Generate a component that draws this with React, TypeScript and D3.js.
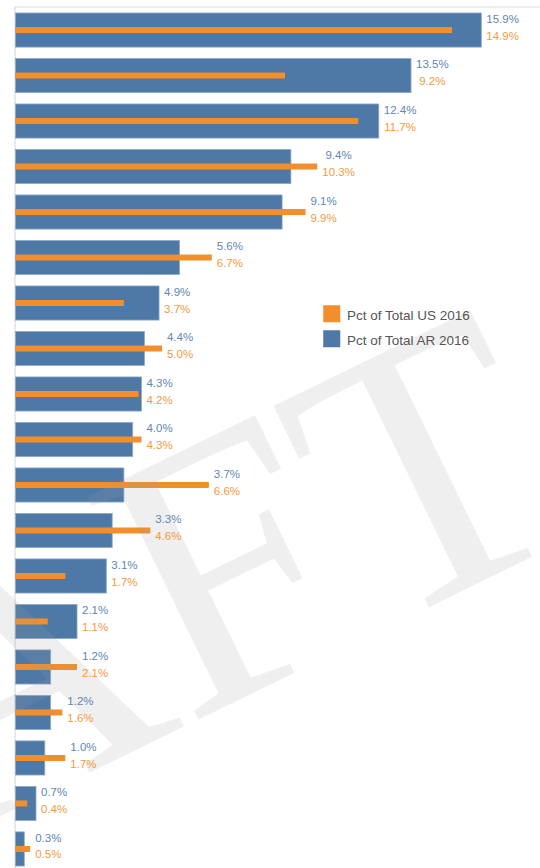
import React from "react";
import * as d3 from "d3";

// row order as shown, top to bottom (category names are hidden in the view)
const categories = [
  "r01", "r02", "r03", "r04", "r05", "r06", "r07", "r08", "r09", "r10",
  "r11", "r12", "r13", "r14", "r15", "r16", "r17", "r18", "r19",
];
const arValues = [15.9, 13.5, 12.4, 9.4, 9.1, 5.6, 4.9, 4.4, 4.3, 4.0, 3.7, 3.3, 3.1, 2.1, 1.2, 1.2, 1.0, 0.7, 0.3];
const usValues = [14.9, 9.2, 11.7, 10.3, 9.9, 6.7, 3.7, 5.0, 4.2, 4.3, 6.6, 4.6, 1.7, 1.1, 2.1, 1.6, 1.7, 0.4, 0.5];
const legendLabels = ["Pct of Total US 2016", "Pct of Total AR 2016"];
const watermark = "DRAFT";

const W = 540;
const H = 868;
const BLUE = "#4e79a7";
const ORANGE = "#f28e2b";
const LABEL_FONT = 11.5;

const fmt = (v: number) => v.toFixed(1) + "%";

// rough Arial advance widths, used to center the two label lines on each other
const textWidth = (s: string) =>
  s.split("").reduce((w, ch) => w + (ch === "." ? 0.278 : ch === "%" ? 0.889 : 0.556), 0) * LABEL_FONT;

export default function App() {
  const x = d3.scaleLinear().domain([0, 17.92]).range([15, W]);
  const y = d3
    .scaleBand<string>()
    .domain(categories)
    .range([7.3, 871.7])
    .paddingInner(0.25)
    .paddingOuter(0.125);
  const bw = y.bandwidth();

  const color = d3.scaleOrdinal<string, string>().domain(legendLabels).range([ORANGE, BLUE]);

  return (
    <svg
      width={W}
      height={H}
      style={{ position: "absolute", left: 0, top: 0, background: "#fff" }}
      fontFamily="'Liberation Sans', Arial, sans-serif"
    >
      <line x1={15} x2={W} y1={7} y2={7} stroke="#dcdcdc" />
      <line x1={15} x2={15} y1={7} y2={H} stroke="#d4d4d4" />

      {categories.map((c, i) => (
        <g key={c}>
          <rect
            x={x(0) + 0.5}
            y={y(c)}
            width={x(arValues[i]) - x(0)}
            height={bw}
            fill={BLUE}
            stroke="#8ea8c8"
            strokeWidth={0.8}
          />
          <rect
            x={x(0) + 0.5}
            y={(y(c) as number) + bw / 2 - 3}
            width={x(usValues[i]) - x(0)}
            height={6}
            fill={ORANGE}
          />
        </g>
      ))}

      {/* watermark, cut by the edges on purpose */}
      <text
        transform="translate(585,531) rotate(-26)"
        textAnchor="end"
        fontFamily="'Liberation Serif', 'Times New Roman', serif"
        fontSize={380}
        fill="#9a9a9a"
        fillOpacity={0.16}
      >
        {watermark}
      </text>

      {categories.map((c, i) => {
        const a = fmt(arValues[i]);
        const u = fmt(usValues[i]);
        const x0 = x(Math.max(arValues[i], usValues[i])) + 5.5;
        const cx = x0 + Math.max(textWidth(a), textWidth(u)) / 2;
        const top = y(c) as number;
        return (
          <g key={c} fontSize={LABEL_FONT} textAnchor="middle">
            <text x={cx} y={top + 10} fill="#6186b5">{a}</text>
            <text x={cx} y={top + 26.6} fill="#f39a3e">{u}</text>
          </g>
        );
      })}

      <g fontSize={13.5} fill="#555">
        {legendLabels.map((l, i) => (
          <g key={l} transform={`translate(323,${305 + i * 25})`}>
            <rect width={17.5} height={17.5} fill={color(l)} stroke="#fff" strokeOpacity={0.5} />
            <text x={24} y={14.8}>{l}</text>
          </g>
        ))}
      </g>
    </svg>
  );
}
